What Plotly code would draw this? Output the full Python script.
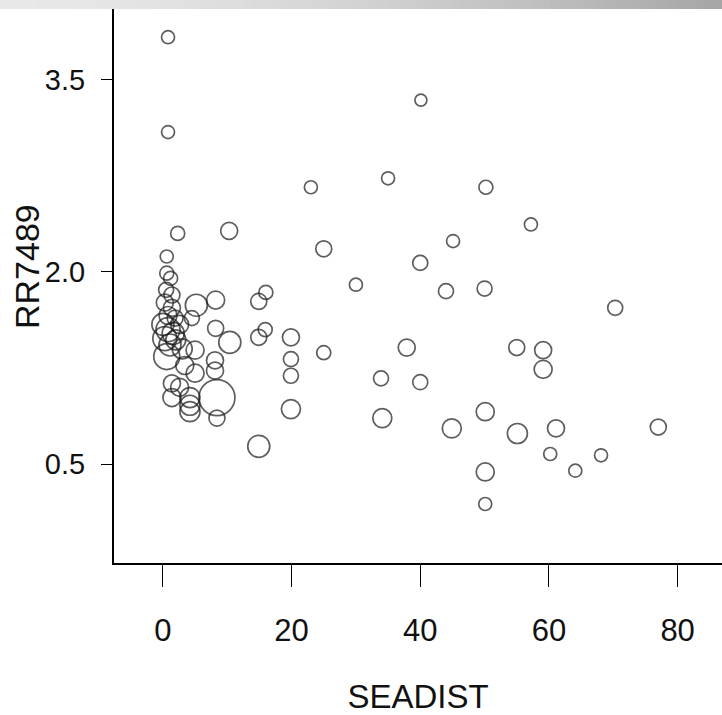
import plotly.graph_objects as go

# ---- data ----
seadist = [
    0.8, 0.8, 40.1, 23.0, 35.0, 50.2, 57.2, 2.3, 10.3, 25.0, 45.1, 40.0, 30.0, 44.0,
    50.0, 70.3, 16.0, 14.9, 15.9, 14.9, 19.9, 25.0, 19.9, 19.9, 37.9, 40.0, 33.9,
    55.0, 59.1, 59.1, 19.9, 34.1, 44.9, 50.1, 55.1, 61.1, 77.0, 14.9, 60.2, 50.1,
    64.1, 68.1, 50.1,
    0.6, 0.6, 1.2, 0.5, 1.4, 0.3, 1.4, 0.8, 1.9, 0.0, 0.8, 1.6, 0.3, 2.0, 1.1, 0.6,
    2.6, 5.2, 8.2, 4.5, 8.2, 10.4, 5.0, 8.1, 8.1, 5.0, 1.4, 1.4, 2.6, 4.2, 4.2, 8.4,
    8.4, 4.2, 3.4, 3.0,
]
rr7489 = [
    3.83, 3.09, 3.34, 2.66, 2.73, 2.66, 2.37, 2.30, 2.32, 2.18, 2.24, 2.07, 1.90, 1.85,
    1.87, 1.72, 1.84, 1.77, 1.55, 1.49, 1.49, 1.37, 1.32, 1.19, 1.41, 1.14, 1.17,
    1.41, 1.39, 1.24, 0.93, 0.86, 0.78, 0.91, 0.74, 0.78, 0.79, 0.64, 0.58, 0.44,
    0.45, 0.57, 0.19,
    2.12, 1.99, 1.95, 1.86, 1.82, 1.76, 1.72, 1.66, 1.64, 1.59, 1.55, 1.52, 1.48, 1.47,
    1.43, 1.34, 1.59, 1.74, 1.78, 1.64, 1.56, 1.45, 1.39, 1.31, 1.23, 1.21, 1.13, 1.02,
    1.10, 1.02, 0.96, 1.02, 0.86, 0.91, 1.27, 1.40,
]
bubble = [
    13, 13, 12, 13, 13, 14, 13, 14, 17, 16, 13, 15, 13, 15,
    15, 15, 14, 16, 14, 16, 17, 14, 15, 15, 17, 15, 15,
    16, 17, 18, 19, 19, 19, 18, 20, 17, 16, 22, 13, 18,
    13, 13, 13,
    13, 14, 14, 15, 16, 17, 17, 18, 16, 22, 24, 22, 24, 20,
    22, 26, 18, 22, 18, 15, 16, 22, 18, 17, 17, 18, 17, 18,
    18, 20, 20, 36, 16, 20, 18, 20,
]
x_ticks = [0, 20, 40, 60, 80]
y_ticks = [0.5, 2.0, 3.5]
y_ticktext = ["0.5", "2.0", "3.5"]
x_title = "SEADIST"
y_title = "RR7489"

W, H = 722, 715
ML, MR, MT, MB = 114, 0, 9, 152
PW, PH = W - ML - MR, H - MT - MB

font_fam = "Liberation Sans, Arial, sans-serif"

fig = go.Figure()
fig.add_trace(go.Scatter(
    x=seadist, y=rr7489, mode="markers",
    marker=dict(symbol="circle-open", size=bubble, color="#1a1a1a",
                line=dict(width=1.7, color="#1a1a1a")),
    showlegend=False, hoverinfo="x+y",
))

# decorative gradient bar at the top of the slide
N = 80
c0, c1 = 232, 166
shapes = []
x_left = -ML / PW
for i in range(N):
    t = i / (N - 1)
    v = int(round(c0 + (c1 - c0) * (t ** 1.6)))
    col = f"rgb({v},{v},{v})"
    xa = x_left + (1 - x_left) * i / N
    xb = x_left + (1 - x_left) * (i + 1) / N + 0.002
    shapes.append(dict(type="rect", xref="paper", yref="paper",
                       x0=xa, x1=xb, y0=1, y1=1 + MT / PH,
                       line=dict(width=0), fillcolor=col, layer="above"))

fig.update_layout(
    width=W, height=H,
    margin=dict(l=ML, r=MR, t=MT, b=MB, pad=0),
    paper_bgcolor="white", plot_bgcolor="white",
    shapes=shapes,
    xaxis=dict(
        range=[-7.6, 86.9], tickvals=x_ticks, ticks="outside", ticklen=22,
        tickwidth=1.3, tickcolor="black", showline=True, linecolor="black",
        linewidth=2, showgrid=False, zeroline=False, ticklabelstandoff=17,
        tickfont=dict(family=font_fam, size=31, color="#111"),
        title=dict(text=x_title, font=dict(family=font_fam, size=33, color="#111"),
                   standoff=38),
        automargin=False,
    ),
    yaxis=dict(
        range=[-0.27, 4.05], tickvals=y_ticks, ticktext=y_ticktext, ticks="outside",
        ticklen=11, tickwidth=1.3, tickcolor="black", showline=True,
        linecolor="black", linewidth=2, showgrid=False, zeroline=False,
        ticklabelstandoff=10,
        tickfont=dict(family=font_fam, size=29, color="#111"),
        automargin=False,
    ),
    annotations=[dict(
        text=y_title, textangle=-90, showarrow=False,
        xref="paper", yref="paper",
        x=(27 - ML) / PW, y=1 - (267 - MT) / PH,
        xanchor="center", yanchor="middle",
        font=dict(family=font_fam, size=34, color="#111"),
    )],
)

fig.write_html("out.html")
